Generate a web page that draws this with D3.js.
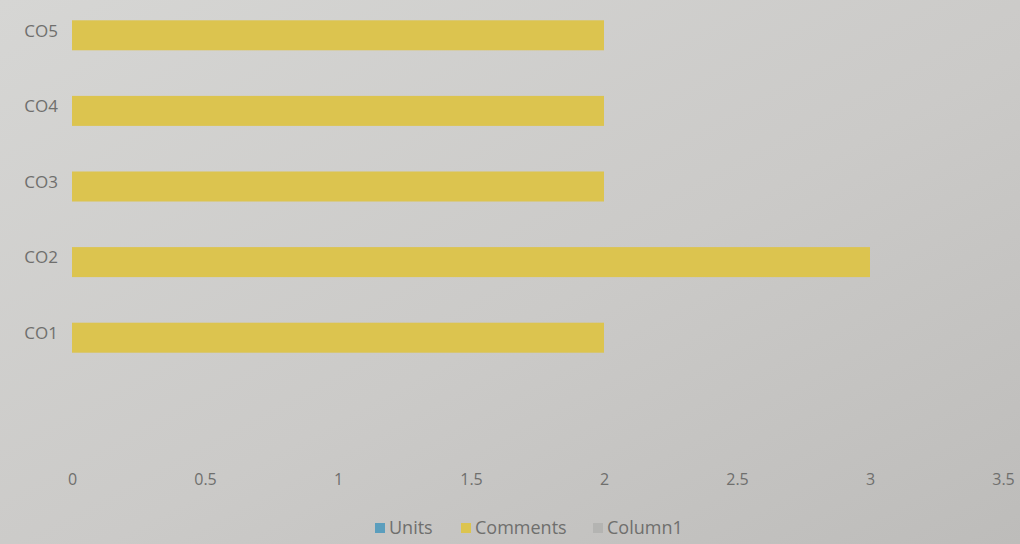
<!DOCTYPE html>
<html>
<head>
<meta charset="utf-8">
<script src="https://cdn.jsdelivr.net/npm/d3@7/dist/d3.min.js"></script>
<style>
  html, body { margin: 0; padding: 0; }
  body { width: 1020px; height: 544px; overflow: hidden; }
  svg text { font-family: "Open Sans", "Liberation Sans", sans-serif; fill: #6f6f6d; }
</style>
</head>
<body>
<div id="chart"></div>
<script>
const categories = ['CO1', 'CO2', 'CO3', 'CO4', 'CO5'];
const seriesNames = ['Units', 'Comments', 'Column1'];
const units = [0, 0, 0, 0, 0];
const comments = [2, 3, 2, 2, 2];
const column1 = [0, 0, 0, 0, 0];
const xTicks = [0, 0.5, 1, 1.5, 2, 2.5, 3, 3.5];

const SERIES_COLORS = {
  'Units': '#5b9ebd',
  'Comments': '#dcc44f',
  'Column1': '#b4b4b2'
};

const width = 1020, height = 544;
const seriesValues = { 'Units': units, 'Comments': comments, 'Column1': column1 };

const svg = d3.select('#chart').append('svg')
  .attr('width', width)
  .attr('height', height);

// photo-like background, lighter top-left
const defs = svg.append('defs');
const bg = defs.append('linearGradient')
  .attr('id', 'bg').attr('x1', '0').attr('y1', '0').attr('x2', '1').attr('y2', '1');
bg.append('stop').attr('offset', '0').attr('stop-color', '#d6d6d4');
bg.append('stop').attr('offset', '0.55').attr('stop-color', '#cbcac8');
bg.append('stop').attr('offset', '1').attr('stop-color', '#bdbcba');
svg.append('rect').attr('width', width).attr('height', height).attr('fill', 'url(#bg)');

const x = d3.scaleLinear().domain([0, 3.5]).range([72, 1003]);

const y = d3.scaleBand()
  .domain(categories.slice().reverse())
  .range([-3, 375])
  .padding(0);

const ySub = d3.scaleBand()
  .domain(seriesNames)
  .range([-45, 45]);

const rows = categories.map((c, i) => ({
  cat: c,
  values: seriesNames.map(s => ({ series: s, value: seriesValues[s][i] }))
}));

const groups = svg.append('g').selectAll('g')
  .data(rows)
  .enter()
  .append('g')
  .attr('transform', d => `translate(0,${y(d.cat) + y.bandwidth() / 2})`);

groups.selectAll('rect')
  .data(d => d.values.filter(v => v.value > 0))
  .enter()
  .append('rect')
  .attr('x', x(0))
  .attr('y', d => ySub(d.series) + 0.5)
  .attr('width', d => x(d.value) - x(0))
  .attr('height', ySub.bandwidth())
  .attr('fill', d => SERIES_COLORS[d.series]);

// category labels
const yAxis = svg.append('g')
  .attr('transform', 'translate(66,0)')
  .call(d3.axisLeft(y).tickSize(0).tickPadding(8));
yAxis.select('.domain').remove();
yAxis.selectAll('text').style('font-size', '17px').attr('dy', '0.1em');

// value axis
const xAxis = svg.append('g')
  .attr('transform', 'translate(0,471)')
  .call(d3.axisBottom(x).tickValues(xTicks).tickSize(0).tickFormat(d3.format('')));
xAxis.select('.domain').remove();
xAxis.selectAll('text').style('font-size', '16px');

// legend
const legendItems = [
  { name: 'Units', x: 375 },
  { name: 'Comments', x: 461 },
  { name: 'Column1', x: 593 }
];
const legend = svg.append('g').selectAll('g')
  .data(legendItems)
  .enter()
  .append('g')
  .attr('transform', d => `translate(${d.x},528)`);
legend.append('rect')
  .attr('x', 0).attr('y', -5)
  .attr('width', 10).attr('height', 10)
  .attr('fill', d => SERIES_COLORS[d.name]);
legend.append('text')
  .attr('x', 14).attr('dy', '0.35em')
  .style('font-size', '18px')
  .text(d => d.name);
</script>
</body>
</html>
